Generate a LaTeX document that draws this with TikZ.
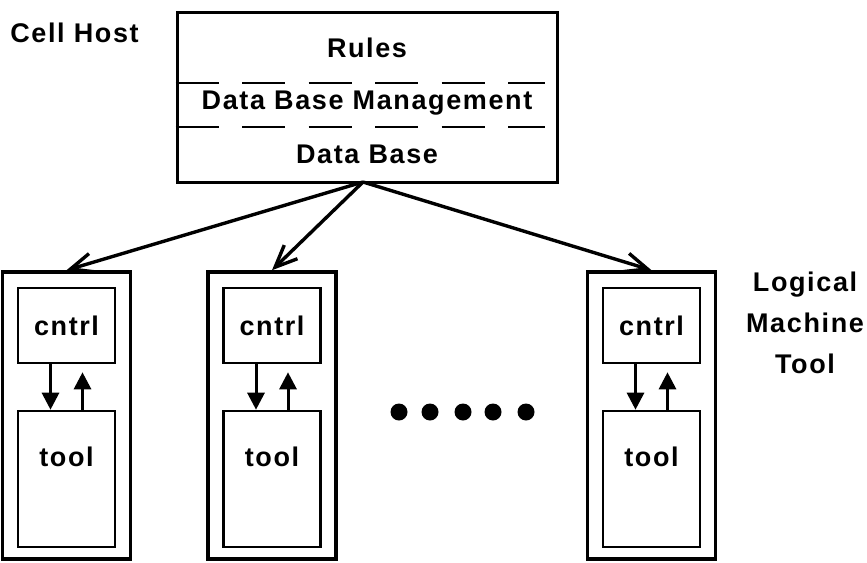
\documentclass[tikz,border=0pt]{standalone}
\usepackage{fontspec}
\newfontfamily\figfont[LetterSpace=6]{Liberation Sans}
\usetikzlibrary{arrows.meta,positioning,calc}

\begin{document}
\begin{tikzpicture}[
    x=1pt,y=-1pt,
    lbl/.style={font=\figfont\bfseries\fontsize{27}{41}\selectfont,inner sep=0pt,align=center},
    hostbox/.style={draw=black,line width=3pt,minimum width=380pt,minimum height=170pt,inner sep=0pt},
    machbox/.style={draw=black,line width=3.6pt,minimum width=128pt,minimum height=287pt,inner sep=0pt},
    cntrlbox/.style={draw=black,line width=2.6pt,minimum width=97pt,minimum height=75pt,inner sep=0pt,
      font=\figfont\bfseries\fontsize{27}{30}\selectfont},
    toolbox/.style={draw=black,line width=2.6pt,minimum width=97pt,minimum height=136pt,inner sep=0pt},
    divider/.style={line width=2.2pt,dash pattern=on 43pt off 23.5pt},
    dispatch/.style={-{Straight Barb[length=22pt,width=19pt]},line width=3.4pt},
    signal/.style={-{Triangle[length=17pt,width=17pt]},line width=3pt}
  ]
    \useasboundingbox (0,0) rectangle (867,562);
    % cell host
    \node[lbl] (cellhost) at (74.5,33) {Cell Host};
    \node[hostbox] (host) at (367,97) {};
    \node[lbl] (rules) at (367,48) {Rules};
    \node[lbl] (dbm) at (367,103) {Data Base Management};
    \node[lbl] (db) at (367,154) {Data Base};
    \draw[divider] (host.west |- 0,83) -- (545,83);
    \draw[divider] (host.west |- 0,127) -- (545,127);
    \coordinate (src) at (363,182);
    % logical machine tools
    \foreach \i/\x in {1/66.5,2/272,3/651.5}{
      \node[machbox] (mach\i) at (\x,415.5) {};
      \node[cntrlbox] (cntrl\i) at (\x,325.5) {cntrl};
      \node[toolbox] (tool\i) at (\x,479) {};
      \node[lbl] (tooltext\i) at ($(tool\i.north)+(0,47)$) {tool};
      \draw[signal] ([xshift=-16pt]cntrl\i.south) -- ([xshift=-16pt]tool\i.north);
      \draw[signal,shorten >=8pt] ([xshift=16pt]tool\i.north) -- ([xshift=16pt]cntrl\i.south);
      \draw[dispatch] (src) -- (mach\i.north);
    }
    \node[lbl] (lmt) at (805,323) {Logical\\Machine\\Tool};
    % more machines
    \foreach \x in {399,430,463,493,526}
      \fill (\x,412) circle (8.5pt);
\end{tikzpicture}
\end{document}
